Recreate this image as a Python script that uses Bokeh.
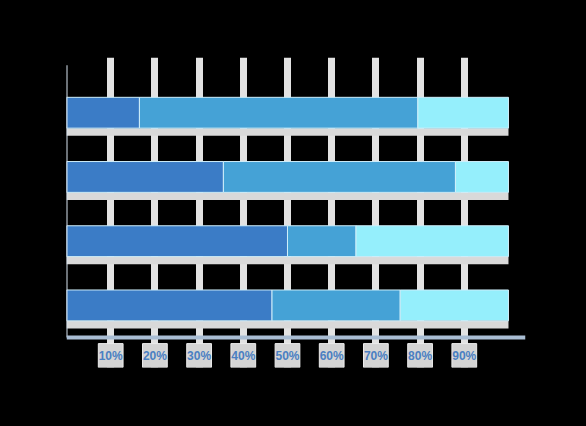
from bokeh.plotting import figure
from bokeh.models import ColumnDataSource, FixedTicker
from bokeh.embed import file_html
from bokeh.resources import INLINE

rows = [4, 3, 2, 1]  # top to bottom
dark = [16.5, 35.5, 50.0, 46.5]
mid = [63.0, 52.5, 15.5, 29.0]
light = [20.5, 12.0, 34.5, 24.5]
tick_values = [10, 20, 30, 40, 50, 60, 70, 80, 90]
tick_labels = ["10%", "20%", "30%", "40%", "50%", "60%", "70%", "80%", "90%"]

BAR_H = 0.48
AXIS_Y = 0.5
src = ColumnDataSource(dict(
    y=rows,
    dark=[v / 100 for v in dark],
    mid=[v / 100 for v in mid],
    light=[v / 100 for v in light],
    band_y=[r - BAR_H / 2 - 0.06 for r in rows],
))
ticks = [t / 100 for t in tick_values]
box_src = ColumnDataSource(dict(
    left=[t - 0.028 for t in ticks],
    right=[t + 0.028 for t in ticks],
))

p = figure(width=586, height=426, x_range=(0, 1.0385), y_range=(0.033, 4.86),
           output_backend="svg", toolbar_location=None,
           min_border_left=66, min_border_right=61, min_border_top=57, min_border_bottom=59)
p.background_fill_color = "#000000"
p.border_fill_color = "#000000"
p.outline_line_color = None

# light boxes behind the tick labels
p.quad(left="left", right="right", bottom=0.033, top=0.405, source=box_src,
       fill_color="#d4d4d4", line_color="#ececec", line_width=1)

# white bands under each bar
p.hbar(y="band_y", left=0, right=1.0, height=0.12, source=src,
       fill_color="#d9d9d9", line_color=None)

p.hbar_stack(["dark", "mid", "light"], y="y", height=BAR_H, source=src,
             color=["#3b7cc6", "#45a2d6", "#95effc"], line_color="#cfeefa", line_width=1)

# left axis line, from the x axis up
p.segment(x0=0, y0=AXIS_Y, x1=0, y1=4.74, line_color="#d8e4f0", line_width=2)

p.xaxis.fixed_location = AXIS_Y
p.xaxis.ticker = FixedTicker(ticks=ticks)
p.xaxis.major_label_overrides = {t: l for t, l in zip(ticks, tick_labels)}
p.xaxis.major_tick_line_color = None
p.xaxis.minor_tick_line_color = None
p.xaxis.axis_line_color = "#a9bdd3"
p.xaxis.axis_line_width = 4
p.xaxis.major_label_standoff = 5
p.xaxis.major_label_text_color = "#4a7fc2"
p.xaxis.major_label_text_font = "Liberation Sans"
p.xaxis.major_label_text_font_style = "bold"
p.xaxis.major_label_text_font_size = "12px"

p.yaxis.visible = False

p.xgrid.grid_line_color = "#e2e2e2"
p.xgrid.grid_line_width = 7
p.ygrid.grid_line_color = None

html = file_html(p, INLINE)
html = html.replace("<head>", "<head><style>html,body{background:#000;margin:0;}</style>", 1)
open("out.html", "w").write(html)
